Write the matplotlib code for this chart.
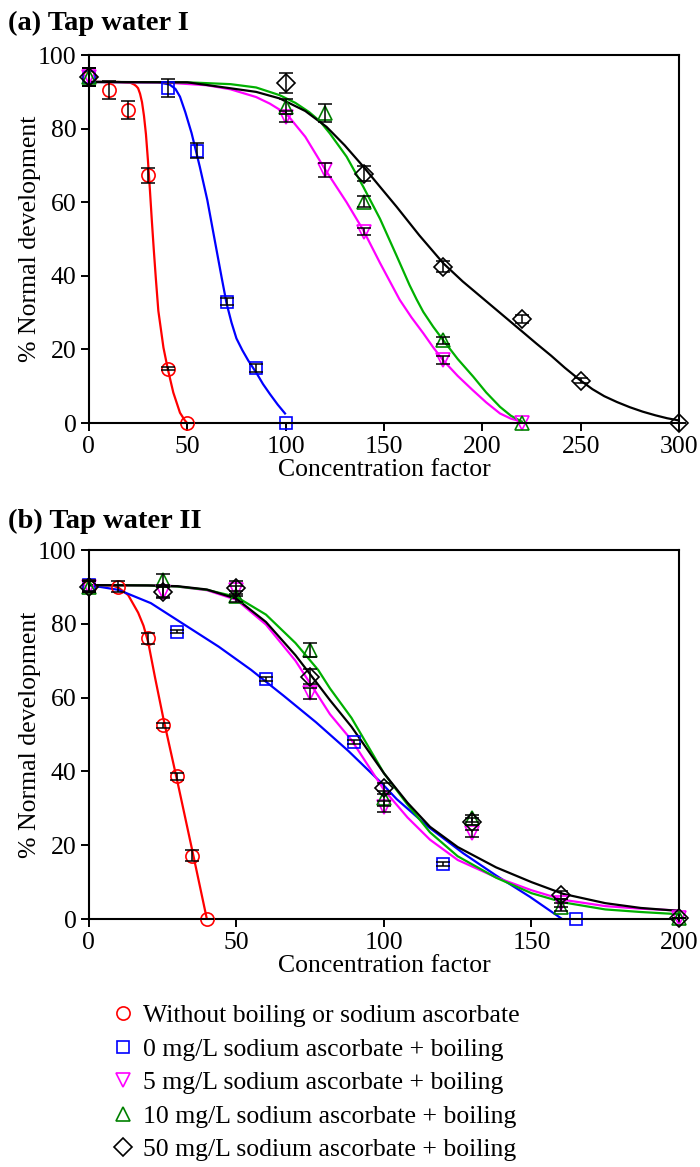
import matplotlib
matplotlib.use("Agg")
import matplotlib.pyplot as plt
from matplotlib.lines import Line2D

plt.rcParams["font.family"] = ["Liberation Serif", "DejaVu Serif"]
plt.rcParams["font.size"] = 18.5

LABELS = [
    "Without boiling or sodium ascorbate",
    "0 mg/L sodium ascorbate + boiling",
    "5 mg/L sodium ascorbate + boiling",
    "10 mg/L sodium ascorbate + boiling",
    "50 mg/L sodium ascorbate + boiling",
]
MARKERS = ["o", "s", "v", "^", "D"]
MARKER_COLOURS = ["#ff0000", "#0000ff", "#ff00ff", "#008000", "#000000"]
LINE_COLOURS = ["#ff0000", "#0000ff", "#ff00ff", "#00b000", "#000000"]

# ---- (a) Tap water I : measured points ----
A_RED_X = [0, 10, 20, 30, 40, 50]
A_RED_Y = [94, 90.5, 85, 67.3, 14.8, 0]
A_RED_ERR = [2.5, 2.5, 2.5, 2, 0.5, 0]
A_BLUE_X = [0, 40, 55, 70, 85, 100]
A_BLUE_Y = [94, 91, 74, 33, 15, 0]
A_BLUE_ERR = [2.5, 2.5, 2, 1, 1, 0]
A_MAG_X = [0, 100, 120, 140, 180, 220]
A_MAG_Y = [94, 83.2, 68.8, 52, 17.1, 0]
A_MAG_ERR = [2.5, 1.5, 1.8, 1, 1, 0]
A_GRN_X = [0, 100, 120, 140, 180, 220]
A_GRN_Y = [94, 86, 84.2, 60.1, 22.5, 0]
A_GRN_ERR = [2.5, 2, 2.5, 1.5, 1, 0]
A_BLK_X = [0, 100, 140, 180, 220, 250, 300]
A_BLK_Y = [94, 92.3, 67.8, 42.5, 28.3, 11.5, 0]
A_BLK_ERR = [2.5, 2.7, 2, 1.5, 1, 0.7, 0]

# ---- (a) fitted curves ----
A_RED_FIT_X = [0, 15, 21, 23, 24, 25, 26, 27, 28, 29, 30, 31, 32, 33, 34,
               35.3, 37.9, 40.1, 42.9, 46.3, 48.8, 49.8]
A_RED_FIT_Y = [92.7, 92.7, 92.5, 92, 91.6, 91, 89.5, 87.2, 83.5, 78.5, 71.5, 63.5, 55, 47, 39.5,
               30.5, 20.5, 14.7, 8.3, 2.8, 0.7, 0.1]
A_BLUE_FIT_X = [0, 35, 41, 44, 46.3, 49, 52.2, 56.4, 60.2, 64.9, 67.5, 70, 72.5, 75, 78, 81,
                85.3, 88.5, 92, 96, 99.7]
A_BLUE_FIT_Y = [92.7, 92.6, 92, 90.8, 88.7, 84.5, 78.8, 69.6, 60.6, 47, 39.5, 32.5, 27.3, 23, 19.8, 17,
                13.5, 10.6, 7.9, 5, 2.6]
A_MAG_FIT_X = [0, 40, 60, 72, 85, 92, 100.5, 110, 120, 131, 139.5, 148, 158, 164, 170, 175, 180,
               187.5, 195, 202, 209, 214.5, 220]
A_MAG_FIT_Y = [92.7, 92.5, 91.8, 90.7, 88.6, 86.8, 84, 77.8, 69, 60, 52.4, 43.5, 33.5, 28.7, 24.4, 20.6, 17.1,
               12.8, 9, 5.6, 2.6, 1.2, 0.4]
A_GRN_FIT_X = [0, 50, 72, 85, 97, 105, 112, 117.5, 122.5, 131, 139.5, 148, 156.4, 163, 166.6, 170, 175,
               180, 187.5, 195.4, 202, 209, 214.5, 220]
A_GRN_FIT_Y = [92.7, 92.6, 92.1, 91.2, 89.1, 87, 84.5, 82, 78.7, 72.4, 64.2, 55.5, 45.5, 37.5, 33.6, 30.2, 26.2,
               22.6, 17.4, 12.6, 8.3, 4.4, 2, 0.4]
A_BLK_FIT_X = [0, 50, 71.7, 85, 97.1, 110, 120.8, 130, 139.5, 148, 156.4, 168, 180.2, 190, 200, 210,
               220, 227.5, 235, 242, 249.6, 256, 262, 268.5, 275, 281.5, 288, 294, 299]
A_BLK_FIT_Y = [92.7, 92.6, 91, 90, 88.2, 84.8, 80.5, 75.5, 69.7, 64.2, 58.8, 51, 43.4, 38.5, 34, 29.5,
               25, 21.6, 18.3, 15, 11.7, 9.2, 7.3, 5.7, 4.3, 3.1, 2.1, 1.3, 0.8]

# ---- (b) Tap water II : measured points ----
B_RED_X = [0, 10, 20, 25, 30, 35, 40]
B_RED_Y = [90, 90.1, 76.1, 52.5, 38.7, 17.2, 0]
B_RED_ERR = [1.5, 1.5, 1.5, 0.7, 1, 1.5, 0]
B_BLUE_X = [0, 30, 60, 90, 120, 165]
B_BLUE_Y = [90.5, 77.9, 65, 48, 15, 0]
B_BLUE_ERR = [1.5, 0.5, 0.5, 0.5, 0.5, 0]
B_MAG_X = [0, 25, 50, 75, 100, 130, 160, 200]
B_MAG_Y = [90, 88.7, 89.2, 61.2, 30.4, 23.2, 4.3, 0.3]
B_MAG_ERR = [1.5, 1.5, 1, 1.5, 1.5, 1, 1, 0]
B_GRN_X = [0, 25, 50, 75, 100, 130, 160, 200]
B_GRN_Y = [90, 91.9, 87.5, 72.9, 32.7, 27.3, 3.3, 0.3]
B_GRN_ERR = [1.5, 1.5, 1.5, 2, 2, 1, 1, 0]
B_BLK_X = [0, 25, 50, 75, 100, 130, 160, 200]
B_BLK_Y = [90, 88.5, 89.6, 65.7, 35.4, 26.4, 6.5, 0.3]
B_BLK_ERR = [1.5, 1.5, 2, 2, 1.5, 1, 1, 0]

# ---- (b) fitted curves ----
B_RED_FIT_X = [0, 8, 10, 13.3, 16.7, 18.5, 20.1, 22.4, 25.2, 30.2, 35.3, 39.9]
B_RED_FIT_Y = [90.5, 90.4, 89.8, 87.8, 83, 79.5, 75, 65.5, 54.5, 36.5, 17.6, 0.3]
B_BLUE_FIT_X = [0, 10, 21, 32.5, 44, 55, 66, 77, 88, 99, 104.3, 115, 126.9, 138, 149.5, 160]
B_BLUE_FIT_Y = [90.5, 89.2, 85.6, 79.7, 73.8, 67.5, 60.5, 53.3, 45.5, 37, 32.5, 25, 17.8, 11.8, 6, 0.2]
B_MAG_FIT_X = [0, 20, 30, 40, 50, 60, 70, 77.7, 81.7, 89, 100, 108, 115.6, 125, 138, 150, 160.8, 175, 187, 200]
B_MAG_FIT_Y = [90.5, 90.4, 90.1, 89.1, 86.5, 79.8, 70, 60.5, 55.5, 48.5, 35, 27.5, 21.5, 16, 11.3, 7.8, 5.2, 3.5, 2.8, 2.3]
B_GRN_FIT_X = [0, 20, 30, 40, 50, 60, 70, 77.7, 81.7, 89, 100, 108, 115.6, 125, 138, 150, 160.8, 175, 187, 200]
B_GRN_FIT_Y = [90.5, 90.4, 90.1, 89.2, 87.3, 82.5, 74.8, 67.5, 62.5, 54.5, 39.5, 31, 23.5, 17, 11.2, 7, 4.5, 2.6, 1.9, 1.3]
B_BLK_FIT_X = [0, 20, 30, 40, 50, 60, 70, 77.7, 81.7, 89, 100, 108, 115.6, 125, 138, 150, 160.8, 175, 187, 200]
B_BLK_FIT_Y = [90.5, 90.4, 90.2, 89.3, 86.8, 80.5, 71.5, 63.5, 59.3, 52.1, 39.5, 31.5, 25, 19.5, 14, 10, 6.8, 4.3, 3, 2.2]

A_POINTS = [
    (A_RED_X, A_RED_Y, A_RED_ERR),
    (A_BLUE_X, A_BLUE_Y, A_BLUE_ERR),
    (A_MAG_X, A_MAG_Y, A_MAG_ERR),
    (A_GRN_X, A_GRN_Y, A_GRN_ERR),
    (A_BLK_X, A_BLK_Y, A_BLK_ERR),
]
A_FITS = [
    (A_RED_FIT_X, A_RED_FIT_Y),
    (A_BLUE_FIT_X, A_BLUE_FIT_Y),
    (A_MAG_FIT_X, A_MAG_FIT_Y),
    (A_GRN_FIT_X, A_GRN_FIT_Y),
    (A_BLK_FIT_X, A_BLK_FIT_Y),
]
B_POINTS = [
    (B_RED_X, B_RED_Y, B_RED_ERR),
    (B_BLUE_X, B_BLUE_Y, B_BLUE_ERR),
    (B_MAG_X, B_MAG_Y, B_MAG_ERR),
    (B_GRN_X, B_GRN_Y, B_GRN_ERR),
    (B_BLK_X, B_BLK_Y, B_BLK_ERR),
]
B_FITS = [
    (B_RED_FIT_X, B_RED_FIT_Y),
    (B_BLUE_FIT_X, B_BLUE_FIT_Y),
    (B_MAG_FIT_X, B_MAG_FIT_Y),
    (B_GRN_FIT_X, B_GRN_FIT_Y),
    (B_BLK_FIT_X, B_BLK_FIT_Y),
]

MARKER_SIZES = {"o": 9.5, "s": 9, "v": 10, "^": 10, "D": 9}


def draw_panel(ax, points, fits, xmax, xticks):
    for i, (fx, fy) in enumerate(fits):
        ax.plot(fx, fy, color=LINE_COLOURS[i], linewidth=1.6, zorder=2)
    for i, (x, y, err) in enumerate(points):
        ax.plot(
            x, y, linestyle="none", marker=MARKERS[i],
            markersize=MARKER_SIZES[MARKERS[i]], markerfacecolor="none",
            markeredgecolor=MARKER_COLOURS[i], markeredgewidth=1.2,
            zorder=3, clip_on=False,
        )
        ax.errorbar(
            x, y, yerr=err, fmt="none", ecolor="black", elinewidth=1.1,
            capsize=5, capthick=1.1, zorder=4, clip_on=False,
        )
    ax.set_xlim(0, xmax)
    ax.set_ylim(0, 100)
    ax.set_xticks(xticks)
    ax.set_yticks([0, 20, 40, 60, 80, 100])
    ax.tick_params(direction="out", length=6, width=1.4, pad=3)
    for s in ax.spines.values():
        s.set_linewidth(1.5)
    ax.set_xlabel("Concentration factor", labelpad=1)
    ax.set_ylabel("% Normal development", labelpad=-2)


fig = plt.figure(figsize=(7, 11.67), dpi=100)
ax_a = fig.add_axes([0.127, 0.6375, 0.843, 0.3153])
ax_b = fig.add_axes([0.127, 0.2125, 0.843, 0.3162])

draw_panel(ax_a, A_POINTS, A_FITS, 300, [0, 50, 100, 150, 200, 250, 300])
draw_panel(ax_b, B_POINTS, B_FITS, 200, [0, 50, 100, 150, 200])

fig.text(0.011, 1 - 23 / 1167, "(a) Tap water I", fontsize=20.5,
         fontweight="bold", ha="left", va="center")
fig.text(0.011, 1 - 521 / 1167, "(b) Tap water II", fontsize=20.5,
         fontweight="bold", ha="left", va="center")

handles = [
    Line2D([], [], linestyle="none", marker=MARKERS[i],
           markersize=MARKER_SIZES[MARKERS[i]], markerfacecolor="none",
           markeredgecolor=MARKER_COLOURS[i], markeredgewidth=1.2)
    for i in range(len(LABELS))
]
fig.legend(
    handles, LABELS, loc="upper left", bbox_to_anchor=(110 / 700, 1 - 1004 / 1167),
    frameon=False, borderpad=0, borderaxespad=0, handlelength=1.0,
    handletextpad=0.3, labelspacing=0.41, fontsize=18.5,
)

fig.savefig("out.png", dpi=100)
